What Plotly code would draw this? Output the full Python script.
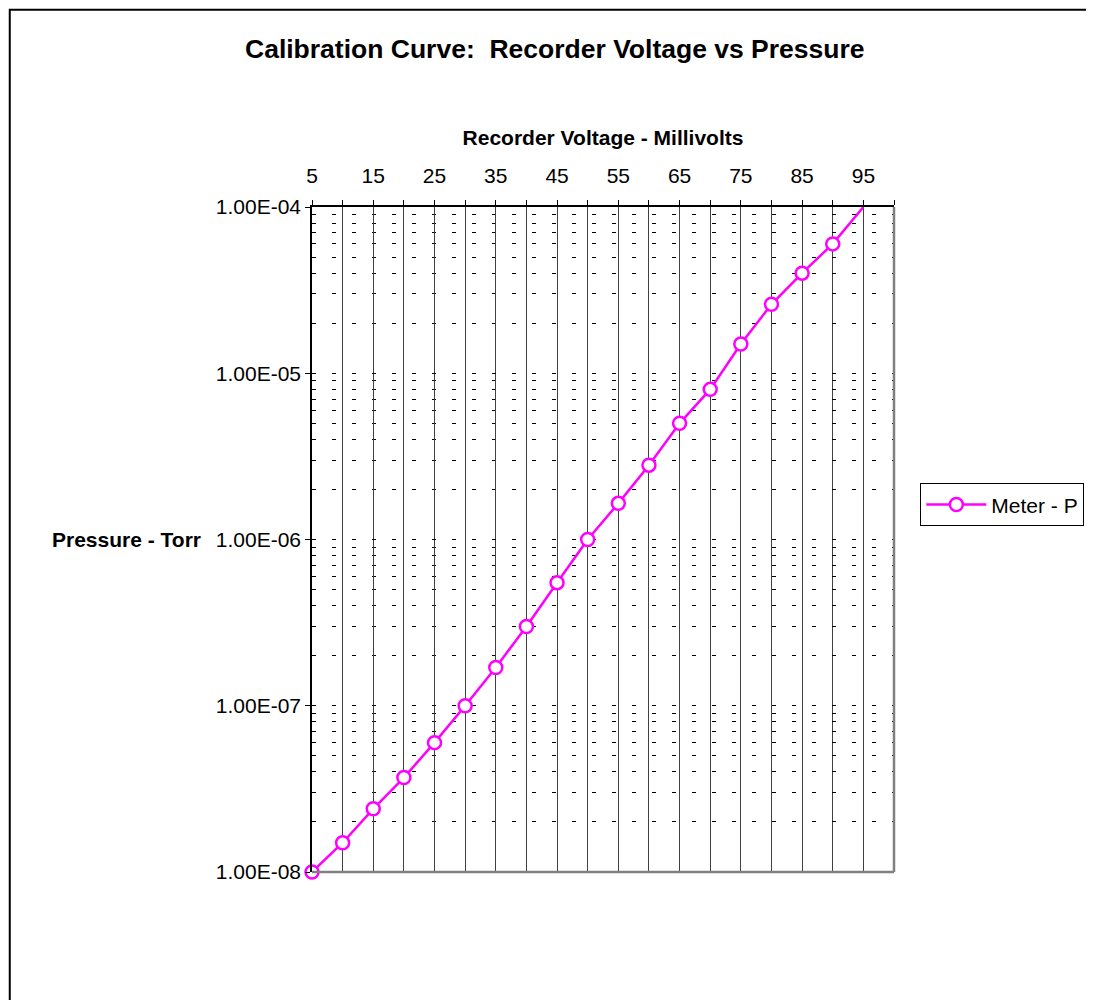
import plotly.graph_objects as go

voltage_mv = [5, 10, 15, 20, 25, 30, 35, 40, 45, 50, 55, 60, 65, 70, 75, 80, 85, 90, 95]
pressure_torr = [1.0e-8, 1.5e-8, 2.4e-8, 3.7e-8, 6.0e-8, 1.0e-7, 1.7e-7, 3.0e-7, 5.5e-7,
                 1.0e-6, 1.65e-6, 2.8e-6, 5.0e-6, 8.0e-6, 1.5e-5, 2.6e-5, 4.0e-5, 6.0e-5, 1.0e-4]
x_tick_vals = [5, 15, 25, 35, 45, 55, 65, 75, 85, 95]
x_tick_text = ["5", "15", "25", "35", "45", "55", "65", "75", "85", "95"]
y_tick_vals = [1e-8, 1e-7, 1e-6, 1e-5, 1e-4]
y_tick_text = ["1.00E-08", "1.00E-07", "1.00E-06", "1.00E-05", "1.00E-04"]
decade_exponents = [-8, -7, -6, -5]
minor_mantissas = [2, 3, 4, 5, 6, 7, 8, 9]
y_minor_vals = [m * 10.0 ** e for e in decade_exponents for m in minor_mantissas]

FONT = "Liberation Sans, Arial, sans-serif"
OFF = 8  # page body margin
W, H = 1094 - 2 * OFF, 1008 - 2 * OFF
PL, PR, PT, PB = 312, 894.5, 207, 872.5  # plot area in page pixels
L = PL - OFF
T = PT - OFF
R = W - (PR - OFF)
B = H - (PB - OFF)
PW = PR - PL
PH = PB - PT

def px_x(p):
    return (p - PL) / PW

def px_y(p):
    return (PB - p) / PH

fig = go.Figure()
fig.add_trace(go.Scatter(
    x=voltage_mv, y=pressure_torr, mode="lines+markers", name="Meter - P",
    line=dict(color="#FF00FF", width=2.5),
    marker=dict(symbol="circle", size=13, color="white", line=dict(color="#FF00FF", width=2.5)),
    cliponaxis=False,
))

fig.update_layout(
    width=W, height=H,
    margin=dict(l=L, r=R, t=T, b=B, pad=0, autoexpand=False),
    paper_bgcolor="white", plot_bgcolor="white",
    font=dict(family=FONT, size=21, color="black"),
    title=dict(text="<b>Calibration Curve:  Recorder Voltage vs Pressure</b>",
               x=px_x(555), xanchor="center", xref="paper", y=1 - (49 - OFF) / H, yanchor="middle",
               font=dict(size=26.5, family=FONT)),
    showlegend=True,
    legend=dict(x=px_x(OFF + W - 1), xanchor="right", y=px_y(505), yanchor="middle",
                bordercolor="black", borderwidth=1, bgcolor="white",
                font=dict(size=21, family=FONT), itemwidth=60,
                tracegroupgap=0),
    xaxis=dict(
        side="top", range=[5, 100], tickmode="array", tickvals=x_tick_vals, ticktext=x_tick_text,
        showgrid=True, gridcolor="#404040", gridwidth=1,
        showline=True, linecolor="black", linewidth=1.5, mirror=False,
        ticks="outside", ticklen=5, tickcolor="black", ticklabelstandoff=9,
        minor=dict(dtick=5, tick0=0, showgrid=True, gridcolor="#404040", gridwidth=1,
                   ticks="outside", ticklen=5, tickcolor="black"),
        zeroline=False,
        title=dict(text="<b>Recorder Voltage - Millivolts</b>", standoff=12,
                   font=dict(size=21, family=FONT)),
        tickfont=dict(size=21, family=FONT),
    ),
    yaxis=dict(
        type="log", range=[-8, -4], tickmode="array", tickvals=y_tick_vals, ticktext=y_tick_text,
        showgrid=True, gridcolor="black", gridwidth=1, griddash="4px,16px",
        showline=True, linecolor="black", linewidth=1.5,
        ticks="outside", ticklen=5, tickcolor="black",
        minor=dict(tickmode="array", tickvals=y_minor_vals,
                   showgrid=True, gridcolor="black", gridwidth=1, griddash="4px,16px",
                   ticks="inside", ticklen=4, tickcolor="black"),
        zeroline=False,
        tickfont=dict(size=21, family=FONT),
    ),
)

# Right and bottom gray border of the plot area
fig.add_shape(type="line", xref="paper", yref="paper", x0=1, x1=1, y0=0, y1=1,
              line=dict(color="#808080", width=2.5))
fig.add_shape(type="line", xref="paper", yref="paper", x0=0, x1=1, y0=0, y1=0,
              line=dict(color="#808080", width=2.5))

# Y-axis title (horizontal)
fig.add_annotation(text="<b>Pressure - Torr</b>", xref="paper", yref="paper",
                   x=px_x(203), xanchor="right", y=px_y(540), yanchor="middle",
                   showarrow=False, font=dict(size=21, family=FONT))

# Outer chart border (figure starts at page offset OFF)
fig.add_shape(type="rect", xref="paper", yref="paper",
              x0=px_x(OFF + 1.5), x1=px_x(1130), y0=px_y(1040), y1=px_y(OFF + 1.5),
              line=dict(color="black", width=2), fillcolor="rgba(0,0,0,0)", layer="below")

fig.write_html("out.html")
